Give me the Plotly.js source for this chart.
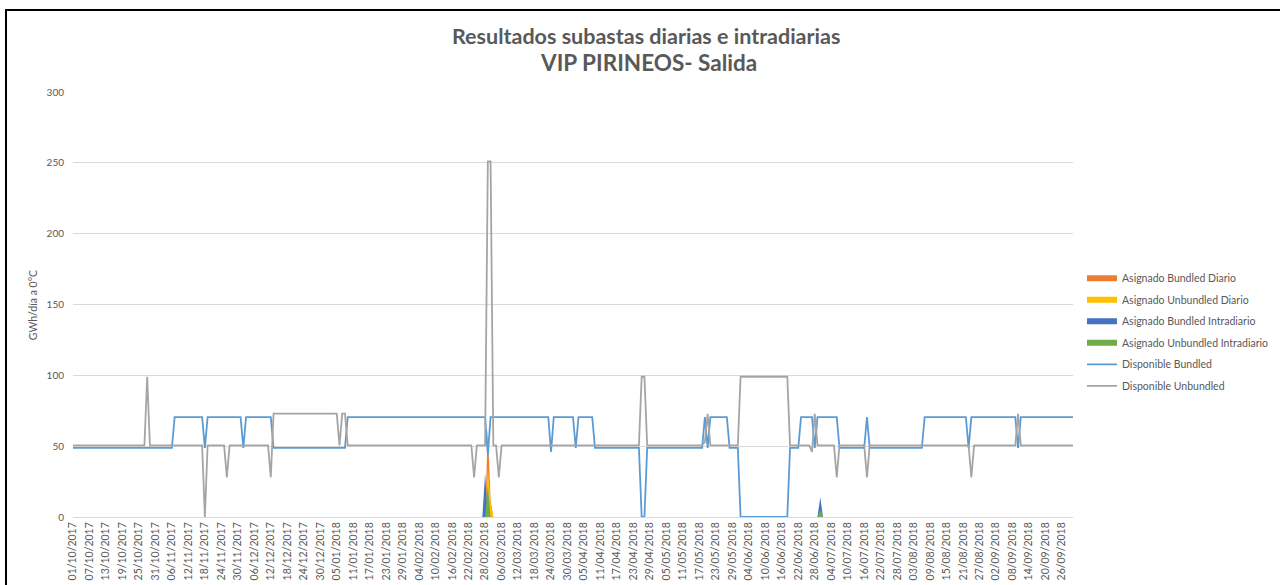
<!DOCTYPE html>
<html>
<head>
<meta charset="utf-8">
<script src="https://cdn.plot.ly/plotly-3.0.1.min.js"></script>
<style>
  html, body { margin: 0; padding: 0; background: #fff; overflow: hidden; }
  #chart { width: 1280px; height: 585px; }
  #frame { position: absolute; left: 5px; top: 9px; width: 1400px; height: 700px;
           border-left: 2px solid #000; border-top: 2px solid #000; pointer-events: none; }
</style>
</head>
<body>
<div id="chart"></div>
<div id="frame"></div>
<script>
// Daily series from 01/10/2017, 365 days
const startDate = Date.UTC(2017, 9, 1);
const nDays = 365;

// Disponible lines as [value, number of days]
const bundledRuns = [[48.8,37],[70.5,11],[48.8,1],[70.5,13],[48.8,1],[70.5,10],[48.8,27],[70.5,51],[44,1],
    [70.5,22],[46,1],[70.5,8],[48.8,1],[70.5,6],[48.8,17],[0,2],[48.8,21],[70.5,1],[48.8,1],[70.5,7],
    [48.8,4],[0,18],[48.8,4],[70.5,5],[48.8,1],[70.5,8],[48.8,10],[70.5,1],[48.8,20],[70.5,16],
    [48.8,1],[70.5,17],[48.8,1],[70.5,20]];
const unbundledRuns = [[50.6,27],[99,1],[50.6,20],[0,1],[50.6,7],[28,1],[50.6,15],[28,1],[72.9,24],
    [50.6,1],[72.9,2],[50.6,46],[28,1],[50.6,4],[251,2],[50.6,2],[28,1],[50.6,51],[99,2],[50.6,21],
    [53,1],[72.9,1],[50.6,11],[99,18],[50.6,8],[46,1],[72.9,1],[50.6,7],[28,1],[50.6,10],[28,1],
    [50.6,37],[28,1],[50.6,16],[72.9,1],[50.6,20]];

// Asignado areas as [day index, value]; every other day is 0
const bundledDiario = [[151, 62], [152, 12]];
const unbundledDiario = [[151, 35], [152, 10]];
const bundledIntradiario = [[150, 31], [272, 14]];
const unbundledIntradiario = [[151, 22], [272, 5]];

function pad(n) { return (n < 10 ? '0' : '') + n; }
const dates = [];
const labels = [];
for (let i = 0; i < nDays; i++) {
    const d = new Date(startDate + i * 86400000);
    dates.push(d.getUTCFullYear() + '-' + pad(d.getUTCMonth() + 1) + '-' + pad(d.getUTCDate()));
    labels.push(pad(d.getUTCDate()) + '/' + pad(d.getUTCMonth() + 1) + '/' + d.getUTCFullYear());
}
const tickVals = [];
const tickText = [];
for (let i = 0; i < nDays; i += 6) {
    tickVals.push(dates[i]);
    tickText.push(labels[i]);
}

function fromRuns(runs) {
    const out = [];
    runs.forEach(([v, n]) => { for (let k = 0; k < n; k++) out.push(v); });
    return out;
}
function fromPoints(points) {
    const out = new Array(nDays).fill(0);
    points.forEach(([i, v]) => { out[i] = v; });
    return out;
}

function area(name, points, color) {
    return {
        x: dates, y: fromPoints(points), name: name, type: 'scatter', mode: 'none',
        fill: 'tozeroy', fillcolor: color, legendgroup: name, hoverinfo: 'skip'
    };
}
function line(name, runs, color) {
    return {
        x: dates, y: fromRuns(runs), name: name, type: 'scatter', mode: 'lines',
        line: {color: color, width: 1.8}, legendgroup: name, hoverinfo: 'skip'
    };
}

const traces = [
    area('Asignado Bundled Diario', bundledDiario, '#ED7D31'),
    area('Asignado Unbundled Diario', unbundledDiario, '#FFC000'),
    area('Asignado Bundled Intradiario', bundledIntradiario, '#4472C4'),
    area('Asignado Unbundled Intradiario', unbundledIntradiario, '#70AD47'),
    line('Disponible Bundled', bundledRuns, '#5B9BD5'),
    line('Disponible Unbundled', unbundledRuns, '#A5A5A5')
];

const textColor = '#595959';
const layout = {
    width: 1280, height: 585,
    margin: {l: 73, r: 207, t: 92, b: 68},
    paper_bgcolor: '#fff', plot_bgcolor: '#fff',
    font: {family: 'Lato, "Open Sans", sans-serif', color: textColor},
    showlegend: true,
    legend: {
        xref: 'container', yref: 'container',
        x: 0.8453, xanchor: 'left', y: 0.549, yanchor: 'top',
        font: {size: 10.5, color: textColor}, tracegroupgap: 2.5,
        bgcolor: 'rgba(0,0,0,0)'
    },
    xaxis: {
        type: 'date', range: [dates[0], dates[nDays - 1]],
        tickvals: tickVals, ticktext: tickText, tickangle: -90,
        tickfont: {size: 10.5, color: textColor},
        showgrid: false, zeroline: false, showline: true, linecolor: '#d9d9d9', linewidth: 1,
        ticks: ''
    },
    yaxis: {
        range: [0, 300], dtick: 50, tickfont: {size: 10, color: textColor},
        gridcolor: '#d9d9d9', gridwidth: 1, zeroline: false, showline: false,
        ticks: '', ticklabelstandoff: 8
    },
    annotations: [
        {text: '<b>Resultados subastas diarias e intradiarias</b>', xref: 'paper', yref: 'paper',
         x: 0.573, y: 1.1306, xanchor: 'center', yanchor: 'middle', showarrow: false,
         font: {size: 21.5, color: textColor}},
        {text: '<b>VIP PIRINEOS- Salida</b>', xref: 'paper', yref: 'paper',
         x: 0.575, y: 1.069, xanchor: 'center', yanchor: 'middle', showarrow: false,
         font: {size: 22.5, color: textColor}},
        {text: 'GWh/día a 0°C', xref: 'paper', yref: 'paper', textangle: -90,
         x: -0.0397, y: 0.499, xanchor: 'center', yanchor: 'middle', showarrow: false,
         font: {size: 10.5, color: textColor}}
    ]
};

Plotly.newPlot('chart', traces, layout, {displayModeBar: false, staticPlot: true});
</script>
</body>
</html>
